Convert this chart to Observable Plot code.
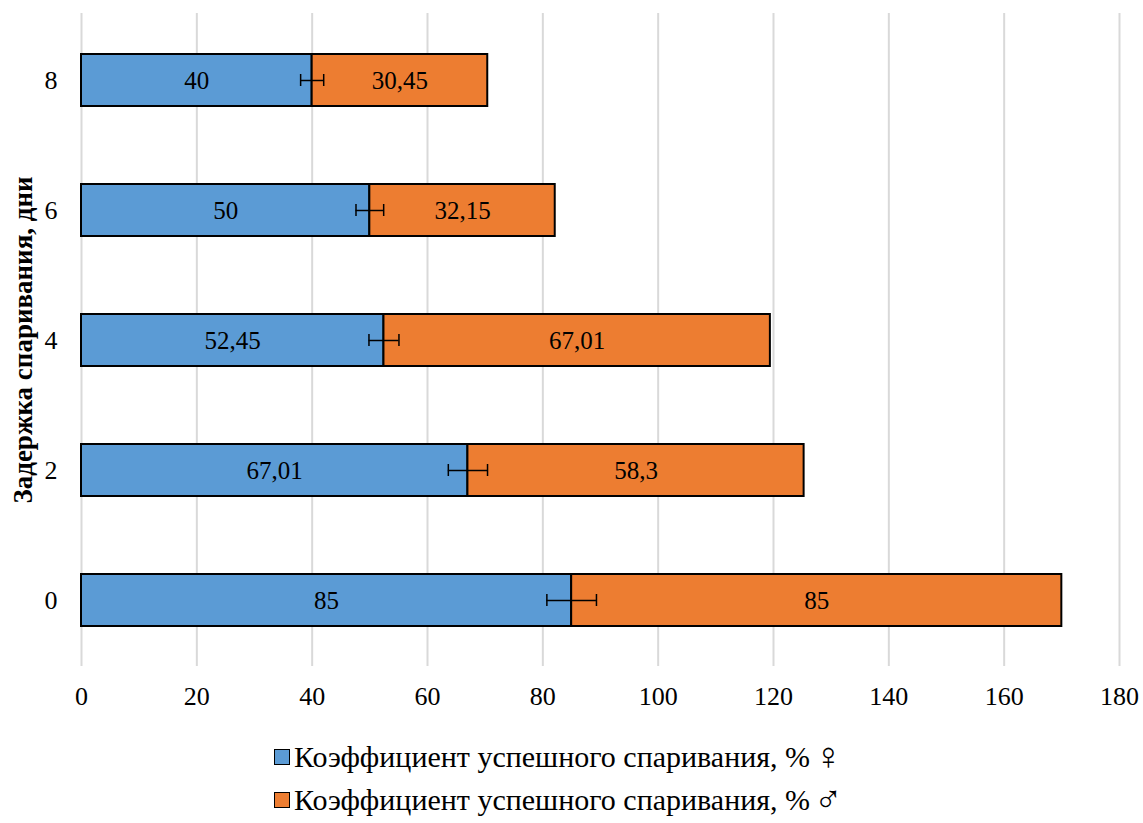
<!DOCTYPE html>
<html>
<head>
<meta charset="utf-8">
<script src="https://cdn.jsdelivr.net/npm/d3@7"></script>
<script src="https://cdn.jsdelivr.net/npm/@observablehq/plot@0.6"></script>
<style>
  html, body { margin: 0; padding: 0; background: #fff; }
  body { width: 1143px; height: 823px; position: relative; overflow: hidden; font-family: "Times New Roman", Times, "Liberation Serif", "Noto Serif", "DejaVu Serif", serif; }
  #legend { position: absolute; left: 274px; top: 735px; font-size: 30px; color: #000; line-height: 43px; }
  .item { display: flex; align-items: center; white-space: nowrap; }
  .sw { border: 1.5px solid #000; margin-right: 4px; box-sizing: border-box; width: 16px; height: 16px; }
  .sym { font-size: 38px; line-height: 43px; margin-left: 4px; }
  svg text { font-family: "Times New Roman", Times, "Liberation Serif", "Noto Serif", "DejaVu Serif", serif; }
</style>
</head>
<body>
<div id="chart"></div>
<div id="legend"></div>
<script>
const days = ["0", "2", "4", "6", "8"];
const female = [85, 67.01, 52.45, 50, 40];
const male = [85, 58.3, 67.01, 32.15, 30.45];
const femaleErr = [4.3, 3.4, 2.6, 2.4, 2.0];
const xTicks = [0, 20, 40, 60, 80, 100, 120, 140, 160, 180];
const seriesNames = ["Коэффициент успешного спаривания, %", "Коэффициент успешного спаривания, %"];
const seriesSymbols = ["♀", "♂"];
const colors = ["#5B9BD5", "#ED7D31"];
const yTitle = "Задержка спаривания, дни";

const rows = [];
days.forEach((d, i) => {
  rows.push({day: d, s: "f", v: female[i]});
  rows.push({day: d, s: "m", v: male[i]});
});
const errs = days.map((d, i) => ({day: d, x: female[i], lo: female[i] - femaleErr[i], hi: female[i] + femaleErr[i]}));
const fmt = v => String(v).replace(".", ",");

const chart = Plot.plot({
  width: 1143,
  height: 720,
  marginLeft: 81,
  marginRight: 24,
  marginTop: 13,
  marginBottom: 54,
  style: {fontSize: "24px", color: "#000", background: "#fff"},
  x: {domain: [0, 180], label: null},
  y: {domain: ["8", "6", "4", "2", "0"], paddingInner: 0.6, paddingOuter: 0.3, label: null},
  color: {domain: ["f", "m"], range: colors},
  marks: [
    Plot.ruleX(xTicks, {stroke: "#d9d9d9", strokeWidth: 2}),
    Plot.axisX({ticks: xTicks, tickSize: 0, tickPadding: 20, fontSize: 26, label: null}),
    Plot.axisY({tickSize: 0, tickPadding: 24, fontSize: 26, label: null}),
    Plot.barX(rows, Plot.stackX({x: "v", y: "day", z: "s", fill: "s", stroke: "#000", strokeWidth: 2})),
    Plot.text(rows, Plot.stackX({x: "v", y: "day", z: "s", text: d => fmt(d.v), fill: "#000", fontSize: 25})),
    Plot.ruleY(errs, {y: "day", x1: "lo", x2: "hi", stroke: "#000", strokeWidth: 1.5}),
    Plot.tickX(errs, {y: "day", x: "lo", stroke: "#000", strokeWidth: 1.5, inset: 20}),
    Plot.tickX(errs, {y: "day", x: "hi", stroke: "#000", strokeWidth: 1.5, inset: 20}),
    Plot.text([yTitle], {frameAnchor: "left", textAnchor: "middle", rotate: -90, dx: -58, fontWeight: "bold", fontSize: 27, fill: "#000"})
  ]
});
document.getElementById("chart").appendChild(chart);

const legend = document.getElementById("legend");
seriesNames.forEach((name, i) => {
  const item = document.createElement("div");
  item.className = "item";
  const sw = document.createElement("span");
  sw.className = "sw";
  sw.style.background = colors[i];
  const t = document.createElement("span");
  t.textContent = name;
  const sym = document.createElement("span");
  sym.className = "sym";
  sym.textContent = seriesSymbols[i];
  item.appendChild(sw);
  item.appendChild(t);
  item.appendChild(sym);
  legend.appendChild(item);
});
</script>
</body>
</html>
